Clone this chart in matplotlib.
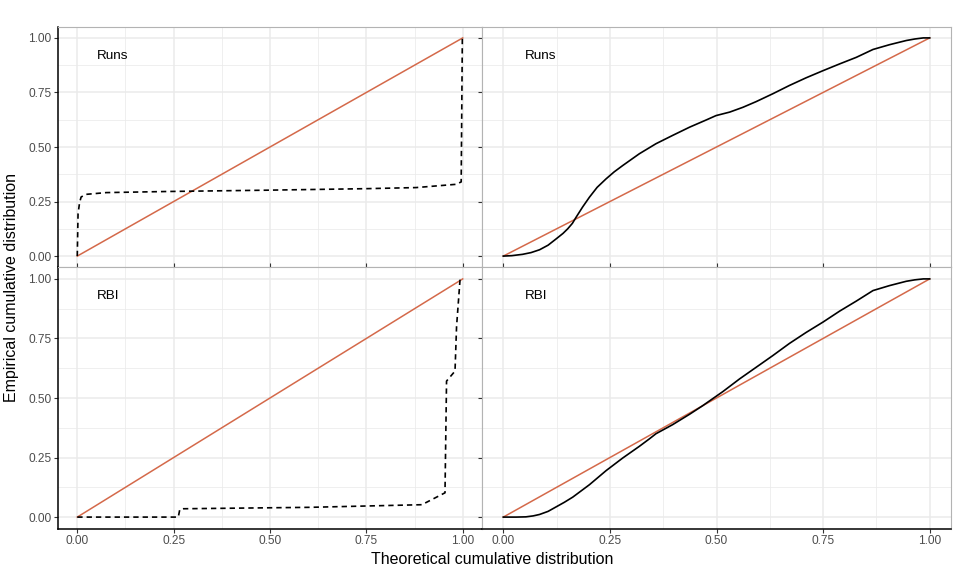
import matplotlib
matplotlib.use("Agg")
import matplotlib.pyplot as plt
import numpy as np

plt.rcParams['font.family'] = ['Liberation Sans', 'DejaVu Sans']

# ---- data ----
diag_x = [0.0, 1.0]
diag_y = [0.0, 1.0]

# Top-left: Runs (dashed)
runs_left_x = [0.0, 0.002, 0.006, 0.010, 0.023, 0.075, 0.231, 0.490, 0.749, 0.879, 0.983, 0.996, 0.999, 1.0]
runs_left_y = [0.0, 0.194, 0.245, 0.271, 0.283, 0.291, 0.296, 0.302, 0.309, 0.314, 0.329, 0.340, 1.0, 1.0]

# Top-right: Runs (solid)
runs_right_x = [0.0, 0.020, 0.045, 0.065, 0.085, 0.105, 0.124, 0.140, 0.151, 0.162, 0.171, 0.186,
                0.202, 0.220, 0.241, 0.260, 0.280, 0.319, 0.358,
                0.397, 0.437, 0.476, 0.499, 0.531, 0.562, 0.593, 0.632, 0.671, 0.710,
                0.750, 0.789, 0.828, 0.867, 0.906, 0.945, 0.965, 0.985, 1.0]
runs_right_y = [0.0, 0.002, 0.008, 0.016, 0.029, 0.050, 0.079, 0.104, 0.125, 0.150, 0.179, 0.225,
                0.270, 0.315, 0.354, 0.386, 0.415, 0.469, 0.515,
                0.553, 0.591, 0.624, 0.644, 0.660, 0.682, 0.708, 0.744, 0.782, 0.817,
                0.850, 0.881, 0.911, 0.947, 0.969, 0.988, 0.995, 1.0, 1.0]

# Bottom-left: RBI (dashed)
rbi_left_x = [0.0, 0.262, 0.266, 0.275, 0.604, 0.894, 0.954, 0.958, 0.980, 0.984, 0.993, 1.0]
rbi_left_y = [0.0, 0.0, 0.032, 0.035, 0.041, 0.052, 0.102, 0.571, 0.613, 0.800, 0.997, 1.0]

# Bottom-right: RBI (solid)
rbi_right_x = [0.0, 0.030, 0.053, 0.070, 0.085, 0.105, 0.124, 0.143, 0.163, 0.202, 0.241, 0.280,
               0.319, 0.343, 0.358, 0.397, 0.437, 0.467, 0.515, 0.554, 0.601, 0.632, 0.671,
               0.710, 0.750, 0.789, 0.828, 0.867, 0.906, 0.945, 0.965, 0.985, 1.0]
rbi_right_y = [0.0, 0.000, 0.001, 0.005, 0.011, 0.024, 0.043, 0.062, 0.084, 0.136, 0.195, 0.248,
               0.297, 0.329, 0.350, 0.388, 0.432, 0.467, 0.527, 0.580, 0.639, 0.678, 0.729,
               0.775, 0.819, 0.865, 0.907, 0.951, 0.972, 0.990, 0.996, 1.0, 1.0]

panel_labels = [["Runs", "Runs"], ["RBI", "RBI"]]
ticks = [0.0, 0.25, 0.5, 0.75, 1.0]
tick_labels = ["0.00", "0.25", "0.50", "0.75", "1.00"]
minor_ticks = [0.125, 0.375, 0.625, 0.875]

# ---- figure ----
W, H = 959, 576
fig = plt.figure(figsize=(W / 100, H / 100), dpi=100)
gs = fig.add_gridspec(2, 2, left=58 / W, right=951 / W, top=1 - 27 / H, bottom=1 - 529 / H,
                      wspace=0, hspace=0, width_ratios=[424, 469], height_ratios=[240, 262])

ORANGE = '#D4694A'
GRID = '#EBEBEB'
BORDER = '#B3B3B3'

curves = [[(runs_left_x, runs_left_y, 'dashed'), (runs_right_x, runs_right_y, 'solid')],
          [(rbi_left_x, rbi_left_y, 'dashed'), (rbi_right_x, rbi_right_y, 'solid')]]

for r in range(2):
    for c in range(2):
        ax = fig.add_subplot(gs[r, c])
        ax.set_xlim(-0.05, 1.05)
        ax.set_ylim(-0.05, 1.05)
        ax.set_xticks(ticks)
        ax.set_yticks(ticks)
        ax.set_xticks(minor_ticks, minor=True)
        ax.set_yticks(minor_ticks, minor=True)
        ax.grid(True, which='major', color=GRID, lw=1.1, zorder=0)
        ax.grid(True, which='minor', color=GRID, lw=0.55, zorder=0)
        ax.set_axisbelow(True)
        ax.tick_params(which='minor', length=0)

        cx, cy, style = curves[r][c]
        ax.plot(diag_x, diag_y, color=ORANGE, lw=1.1, zorder=3)
        if style == 'dashed':
            ax.plot(cx, cy, color='black', lw=1.2, linestyle=(0, (3.2, 2.4)), zorder=4)
        else:
            ax.plot(cx, cy, color='black', lw=1.2, zorder=4)

        ty = 0.904 if r == 0 else 0.917
        ax.text(0.05, ty, panel_labels[r][c], ha='left', va='baseline', fontsize=9.7, color='black')

        for s in ax.spines.values():
            s.set_color(BORDER)
            s.set_linewidth(0.8)
        if c == 0:
            ax.spines['left'].set_color('black')
            ax.spines['left'].set_linewidth(1.1)
        if r == 1:
            ax.spines['bottom'].set_color('black')
            ax.spines['bottom'].set_linewidth(1.1)

        ax.tick_params(axis='both', which='major', color='#333333', width=0.8, length=2.6,
                       labelsize=8.6, labelcolor='#4D4D4D', pad=2)
        if r == 0:
            ax.tick_params(axis='x', direction='in', labelbottom=False)
        else:
            ax.set_xticklabels(tick_labels)
        if c == 1:
            ax.tick_params(axis='y', labelleft=False)
        else:
            ax.set_yticklabels(tick_labels)

fig.text(12 / W, 1 - 288 / H, "Empirical cumulative distribution", rotation=90,
         ha='center', va='center', fontsize=11.5)
fig.text(492 / W, 1 - 564.5 / H, "Theoretical cumulative distribution",
         ha='center', va='baseline', fontsize=11.5)

fig.savefig("out.png", dpi=100)
